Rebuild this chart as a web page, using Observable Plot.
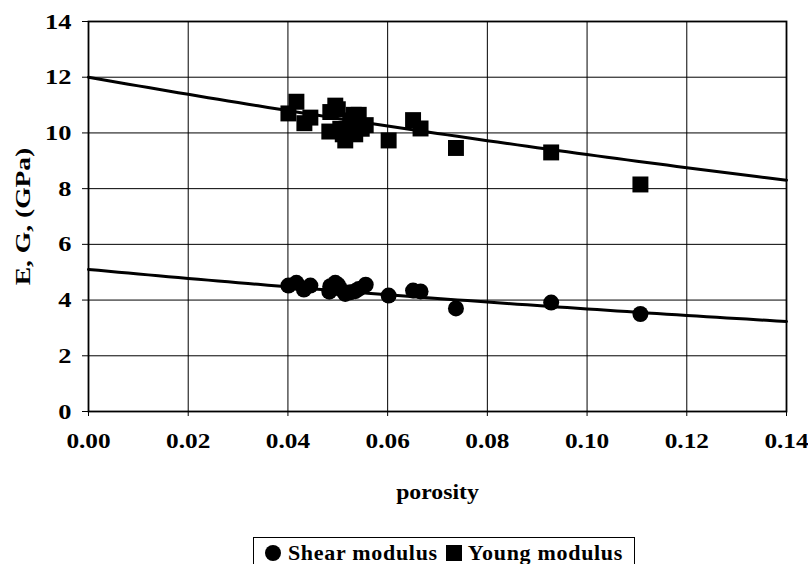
<!DOCTYPE html>
<html><head><meta charset="utf-8">
<script src="https://cdn.jsdelivr.net/npm/d3@7"></script>
<script src="https://cdn.jsdelivr.net/npm/@observablehq/plot@0.6"></script>
<style>
body{margin:0;background:#fff;font-family:"Liberation Serif","DejaVu Serif",serif;}
#wrap{position:relative;width:808px;height:564px;overflow:hidden;}
#legend{position:absolute;left:253px;top:537px;width:382px;height:32px;border:1px solid #000;box-sizing:border-box;display:flex;align-items:center;justify-content:center;font-weight:bold;font-size:22px;letter-spacing:0.7px;color:#000;white-space:nowrap;font-family:"Liberation Serif","DejaVu Serif",serif;}
.sym{display:inline-block;width:16px;height:16px;background:#000;margin:0 7px 0 0;}
.circ{border-radius:50%;}
</style>
</head><body>
<div id="wrap"><div id="chart"></div>
<div id="legend"><span class="sym circ"></span>Shear modulus<span class="sym" style="margin-left:8px;margin-right:6px"></span>Young modulus</div>
</div>
<script>
// Young modulus (squares)
const youngPorosity = [0.0401,0.0417,0.0433,0.0445,0.0483,0.0485,0.0495,0.0500,0.0505,0.0510,0.0515,0.0525,0.0532,0.0535,0.0542,0.0548,0.0556,0.0602,0.0651,0.0666,0.0737,0.0928,0.1107];
const youngModulus  = [10.70,11.12,10.35,10.55,10.05,10.75,10.98,10.85,10.15,9.95,9.73,10.45,10.65,9.95,10.65,10.15,10.28,9.73,10.46,10.16,9.46,9.30,8.15];
// Shear modulus (circles)
const shearPorosity = [0.0401,0.0417,0.0432,0.0445,0.0483,0.0485,0.0495,0.0500,0.0505,0.0515,0.0525,0.0535,0.0542,0.0556,0.0602,0.0651,0.0666,0.0737,0.0928,0.1107];
const shearModulus  = [4.52,4.62,4.38,4.52,4.30,4.50,4.62,4.55,4.40,4.22,4.28,4.32,4.40,4.55,4.16,4.34,4.31,3.70,3.91,3.50];
// Exponential trendlines y = a*exp(b*x)
const youngFit = {a: 12.0, b: -2.63};
const shearFit = {a: 5.1, b: -3.26};
const xTicks = [0,0.02,0.04,0.06,0.08,0.10,0.12,0.14];
const yTicks = [0,2,4,6,8,10,12,14];

const young = youngPorosity.map((p,i)=>({porosity:p, modulus:youngModulus[i]}));
const shear = shearPorosity.map((p,i)=>({porosity:p, modulus:shearModulus[i]}));
const xs = d3.range(0, 0.14001, 0.002);
const youngTrend = xs.map(x=>({porosity:x, modulus:youngFit.a*Math.exp(youngFit.b*x)}));
const shearTrend = xs.map(x=>({porosity:x, modulus:shearFit.a*Math.exp(shearFit.b*x)}));

const font = '"Liberation Serif", "DejaVu Serif", serif';
const chart = Plot.plot({
  width: 808, height: 530,
  marginLeft: 88, marginRight: 22, marginTop: 21, marginBottom: 119,
  style: {fontFamily: font, fontWeight: "bold", background: "#fff", color: "#000"},
  x: {domain: [0, 0.14]},
  y: {domain: [0, 14]},
  marks: [
    Plot.gridX(xTicks, {stroke: "#000", strokeOpacity: 1, strokeWidth: 1}),
    Plot.gridY(yTicks, {stroke: "#000", strokeOpacity: 1, strokeWidth: 1}),
    Plot.line(youngTrend, {x: "porosity", y: "modulus", stroke: "#000", strokeWidth: 3}),
    Plot.line(shearTrend, {x: "porosity", y: "modulus", stroke: "#000", strokeWidth: 3}),
    Plot.dot(young, {x: "porosity", y: "modulus", symbol: "square", r: 9, fill: "#000"}),
    Plot.dot(shear, {x: "porosity", y: "modulus", symbol: "circle", r: 8, fill: "#000"}),
    Plot.frame({stroke: "#000", strokeWidth: 1.8}),
    Plot.axisX({ticks: xTicks, tickFormat: d3.format(".2f"), tickSize: 5, tickPadding: 16, fontSize: 22, fontWeight: "bold", fontFamily: font, label: null}),
    Plot.axisY({ticks: yTicks, tickFormat: d3.format("d"), tickSize: 6, tickPadding: 11, fontSize: 22, fontWeight: "bold", fontFamily: font, label: null}),
    Plot.text(["porosity"], {frameAnchor: "bottom", dy: 80, text: d=>d, fontSize: 22, fontWeight: "bold", fontFamily: font, lineAnchor: "middle", textAnchor: "middle", className: "xlabel"}),
    Plot.text(["E, G, (GPa)"], {frameAnchor: "left", dx: -66, rotate: -90, text: d=>d, fontSize: 22, fontWeight: "bold", fontFamily: font, lineAnchor: "middle", textAnchor: "middle", className: "ylabel"})
  ]
});
// widen the text horizontally as in the reference
function stretch(sel, sx) {
  d3.select(chart).selectAll(sel).each(function() {
    const t = this.getAttribute("transform") || "";
    this.setAttribute("transform", t + ` scale(${sx},1)`);
  });
}
stretch("g[aria-label='x-axis tick label'] text", 1.15);
stretch("g[aria-label='y-axis tick label'] text", 1.2);
stretch(".xlabel text", 1.08);
stretch(".ylabel text", 1.25);
document.getElementById("chart").appendChild(chart);
</script>
</body></html>
